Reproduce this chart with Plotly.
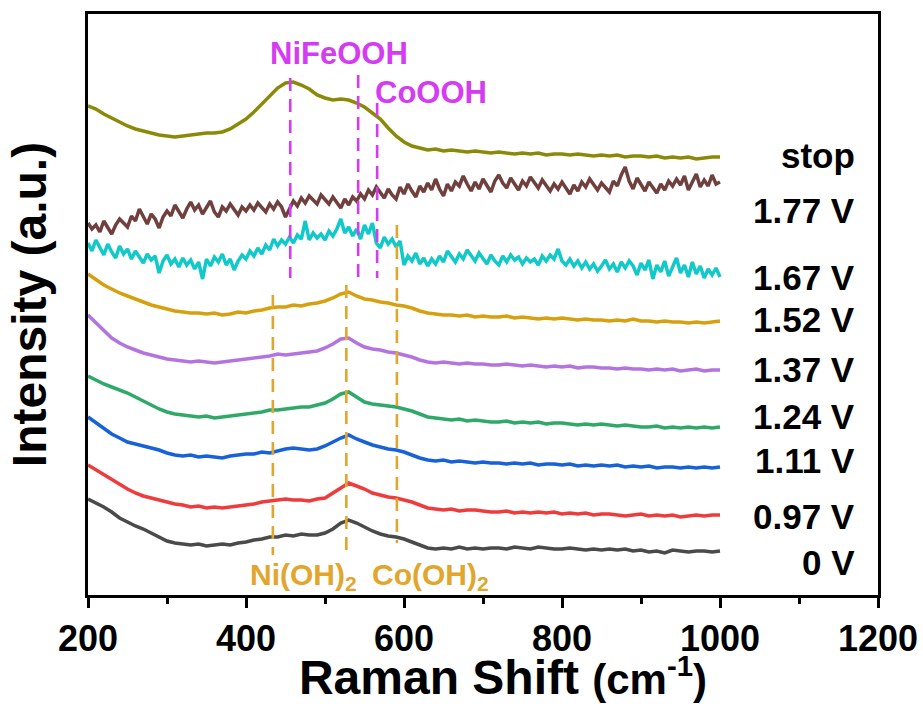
import plotly.graph_objects as go

# ---------------- data ----------------
shift_10 = list(range(200, 1001, 10))   # Raman shift grid for the smoother spectra
shift_5 = list(range(200, 1001, 5))     # finer grid for the noisy spectra

int_0V = [96, 92, 88, 83, 77, 73, 69, 66, 62, 58,
          54, 52, 51, 50, 51, 49, 50, 51, 50, 52,
          53, 55, 56, 58, 58, 60, 59, 61, 60, 60,
          62, 66, 72, 75, 72, 68, 64, 61, 59, 58,
          56, 53, 50, 47, 46, 47, 46, 48, 46, 47,
          46, 47, 47, 46, 48, 47, 46, 48, 47, 46,
          46, 47, 46, 45, 46, 45, 46, 45, 46, 44,
          45, 43, 44, 42, 45, 44, 43, 44, 44, 43,
          44]
int_097V = [130, 125, 120, 115, 110, 106, 102, 99, 97, 95,
            93, 91, 90, 88, 89, 87, 88, 87, 88, 89,
            90, 91, 93, 94, 95, 96, 95, 95, 94, 96,
            97, 102, 108, 112, 109, 106, 102, 100, 98, 97,
            95, 93, 90, 87, 86, 85, 86, 84, 85, 85,
            84, 83, 83, 84, 82, 83, 82, 83, 82, 83,
            81, 82, 81, 82, 80, 81, 81, 80, 79, 80,
            81, 79, 80, 79, 80, 78, 79, 80, 79, 80,
            80]
int_111V = [178, 172, 166, 161, 157, 153, 151, 149, 147, 145,
            142, 140, 139, 140, 138, 139, 138, 137, 139, 140,
            141, 141, 143, 142, 144, 146, 147, 146, 145, 146,
            149, 153, 157, 160, 156, 153, 150, 148, 146, 145,
            143, 140, 137, 135, 134, 135, 133, 134, 133, 132,
            133, 132, 132, 131, 132, 131, 132, 130, 131, 131,
            130, 131, 129, 130, 129, 130, 129, 130, 128, 129,
            128, 129, 127, 128, 128, 127, 128, 127, 128, 127,
            128]
int_124V = [219, 215, 211, 208, 205, 202, 198, 194, 190, 186,
            183, 181, 180, 179, 178, 179, 177, 178, 179, 180,
            181, 182, 183, 185, 185, 186, 187, 188, 188, 190,
            192, 196, 201, 203, 198, 193, 191, 190, 189, 188,
            186, 184, 181, 178, 177, 176, 175, 176, 174, 175,
            174, 173, 173, 174, 172, 173, 172, 173, 171, 172,
            172, 171, 170, 171, 170, 171, 170, 169, 170, 169,
            168, 168, 169, 167, 168, 167, 168, 167, 168, 167,
            168]
int_137V = [280, 272, 264, 257, 252, 248, 245, 242, 240, 238,
            236, 235, 234, 233, 234, 233, 232, 233, 234, 235,
            236, 237, 238, 239, 241, 240, 241, 242, 243, 244,
            247, 251, 256, 257, 252, 248, 246, 245, 243, 242,
            240, 238, 235, 233, 232, 233, 232, 231, 232, 231,
            231, 230, 230, 231, 230, 229, 230, 229, 228, 229,
            228, 229, 227, 228, 228, 227, 227, 226, 227, 226,
            226, 225, 226, 225, 226, 224, 225, 226, 224, 225,
            225]
int_152V = [321, 315, 310, 306, 302, 299, 296, 293, 290, 288,
            286, 284, 283, 282, 282, 281, 282, 280, 281, 283,
            282, 284, 285, 287, 288, 288, 290, 289, 291, 292,
            294, 297, 301, 303, 299, 296, 295, 293, 292, 290,
            289, 287, 284, 282, 281, 280, 280, 279, 280, 278,
            279, 278, 278, 279, 277, 278, 277, 276, 277, 276,
            277, 276, 275, 276, 275, 275, 274, 275, 274, 276,
            274, 274, 273, 274, 273, 273, 272, 273, 272, 273,
            274]
int_stop = [489, 486, 481, 477, 473, 469, 466, 464, 462, 460,
            459, 458, 459, 460, 461, 462, 462, 463, 466, 471,
            476, 483, 491, 499, 507, 512, 513, 510, 506, 500,
            497, 495, 496, 495, 492, 488, 482, 476, 467, 459,
            453, 449, 447, 445, 446, 444, 445, 444, 443, 444,
            443, 442, 443, 442, 441, 442, 441, 442, 440, 441,
            441, 440, 441, 440, 439, 440, 439, 440, 438, 439,
            439, 438, 439, 437, 438, 437, 438, 436, 437, 438,
            438]
int_177V = [372, 366, 370, 363, 374, 368, 361, 370, 376, 372, 368, 379, 374, 386, 378, 371, 381, 376, 367, 378,
            384, 379, 390, 383, 377, 386, 393, 385, 390, 381, 388, 394, 383, 378, 388, 384, 391, 386, 380, 388,
            384, 390, 385, 392, 387, 383, 391, 386, 393, 388, 378, 386, 394, 389, 397, 392, 399, 395, 391, 400,
            395, 391, 398, 393, 387, 396, 390, 398, 394, 401, 396, 405, 400, 408, 402, 397, 406, 400, 396, 408,
            401, 411, 404, 398, 409, 403, 412, 405, 416, 406, 399, 411, 404, 413, 409, 419, 411, 404, 413, 406,
            416, 410, 403, 414, 420, 412, 407, 417, 411, 405, 414, 409, 418, 412, 407, 415, 409, 404, 411, 406,
            413, 407, 401, 410, 404, 413, 408, 416, 411, 405, 412, 408, 403, 414, 409, 420, 428, 414, 406, 417,
            410, 404, 413, 408, 402, 411, 405, 414, 409, 416, 410, 419, 405, 413, 421, 408, 415, 409, 420, 411,
            413]
int_167V = [352, 344, 355, 348, 340, 351, 343, 337, 349, 341, 346, 336, 344, 338, 332, 341, 335, 339, 322, 334,
            340, 331, 336, 328, 337, 330, 335, 326, 333, 316, 336, 329, 338, 333, 341, 330, 336, 325, 334, 340,
            336, 344, 339, 347, 341, 350, 345, 356, 349, 355, 351, 358, 352, 360, 356, 374, 355, 362, 357, 361,
            355, 364, 359, 366, 376, 362, 368, 359, 366, 356, 370, 361, 372, 352, 347, 358, 351, 356, 348, 354,
            330, 339, 334, 342, 331, 337, 329, 336, 331, 339, 333, 344, 338, 333, 341, 336, 345, 339, 334, 342,
            337, 331, 340, 334, 330, 339, 333, 340, 335, 338, 331, 337, 333, 336, 330, 339, 334, 340, 336, 346,
            334, 330, 336, 329, 334, 327, 333, 326, 331, 324, 329, 335, 326, 331, 323, 333, 327, 334, 329, 320,
            332, 325, 335, 316, 330, 323, 334, 319, 328, 337, 322, 330, 318, 333, 321, 329, 317, 326, 320, 327,
            318]

series_labels = ["0 V", "0.97 V", "1.11 V", "1.24 V", "1.37 V", "1.52 V", "1.67 V", "1.77 V", "stop"]
series_x = [shift_10, shift_10, shift_10, shift_10, shift_10, shift_10, shift_5, shift_5, shift_10]
series_y = [int_0V, int_097V, int_111V, int_124V, int_137V, int_152V, int_167V, int_177V, int_stop]

# reference peak positions (cm-1) and the vertical extent of their dashed markers
oxy_peaks = [456, 542, 566]          # NiFeOOH / CoOOH
oxy_top = [517, 520, 492]
oxy_bottom = [317, 313, 317]
hyd_peaks = [434, 527, 591]          # Ni(OH)2 / Co(OH)2
hyd_top = [300, 310, 370]
hyd_bottom = [40, 41, 52]

x_ticks = [200, 400, 600, 800, 1000, 1200]

# ---------------- styling ----------------
FONT = "Liberation Sans, Arial, Helvetica, sans-serif"
colors = ["#4a4a4a", "#ef3b3b", "#1762d8", "#2ea96a", "#b474e0",
          "#d6a00e", "#12c9c9", "#70403f", "#8b8a08"]
MAGENTA = "#d53cf2"
GOLD = "#e2a62c"

fig = go.Figure()
for xs, ys, c, name in zip(series_x, series_y, colors, series_labels):
    fig.add_trace(go.Scatter(x=xs, y=ys, mode="lines", name=name,
                             line=dict(color=c, width=3.5), showlegend=False,
                             hoverinfo="skip"))

for p, t, b in zip(oxy_peaks, oxy_top, oxy_bottom):
    fig.add_trace(go.Scatter(x=[p, p], y=[t, b], mode="lines", showlegend=False,
                             hoverinfo="skip",
                             line=dict(color=MAGENTA, width=2.6, dash="13px,8px")))
for p, t, b in zip(hyd_peaks, hyd_top, hyd_bottom):
    fig.add_trace(go.Scatter(x=[p, p], y=[t, b], mode="lines", showlegend=False,
                             hoverinfo="skip",
                             line=dict(color=GOLD, width=2.6, dash="13px,8px")))

annotations = []
# curve labels on the right
label_pos = [33, 79, 135, 179, 226, 276, 318, 385, 440]
for lab, yv in zip(series_labels, label_pos):
    annotations.append(dict(x=1173, y=yv, xref="x", yref="y", text=lab,
                            showarrow=False, xanchor="right", yanchor="middle",
                            font=dict(family=FONT, size=35, color="black", weight="bold")))
# phase labels
annotations.append(dict(x=518, y=542, xref="x", yref="y", text="NiFeOOH", showarrow=False,
                        font=dict(family=FONT, size=31, color=MAGENTA, weight="bold")))
annotations.append(dict(x=634, y=503, xref="x", yref="y", text="CoOOH", showarrow=False,
                        font=dict(family=FONT, size=31, color=MAGENTA, weight="bold")))
annotations.append(dict(x=473, y=19, xref="x", yref="y", text="Ni(OH)<sub>2</sub>", showarrow=False,
                        font=dict(family=FONT, size=30, color=GOLD, weight="bold")))
annotations.append(dict(x=634, y=19, xref="x", yref="y", text="Co(OH)<sub>2</sub>", showarrow=False,
                        font=dict(family=FONT, size=30, color=GOLD, weight="bold")))

fig.update_layout(
    width=923, height=704,
    margin=dict(l=88, r=45, t=14, b=109),
    paper_bgcolor="white", plot_bgcolor="white",
    font=dict(family=FONT, color="black"),
    annotations=annotations,
    showlegend=False,
)
fig.update_xaxes(
    range=[200, 1200], tickvals=x_ticks, ticktext=[str(v) for v in x_ticks],
    ticks="outside", ticklen=10, tickwidth=2.5, tickcolor="black",
    minor=dict(ticks="outside", ticklen=6, tickwidth=2.5, tickcolor="black", dtick=100, tick0=200),
    showline=True, linewidth=2.5, linecolor="black", mirror=True,
    showgrid=False, zeroline=False,
    tickfont=dict(family=FONT, size=36, color="black", weight="bold"),
    title=dict(text="&nbsp;&nbsp;&nbsp;Raman Shift <span style='font-size:42px'>(cm<sup>-1</sup>)</span>",
               font=dict(family=FONT, size=48, color="black", weight="bold"), standoff=12),
    automargin=False,
)
fig.update_yaxes(
    range=[0, 581], showticklabels=False, ticks="",
    showline=True, linewidth=2.5, linecolor="black", mirror=True,
    showgrid=False, zeroline=False,
    title=dict(text="Intensity (a.u.)",
               font=dict(family=FONT, size=48, color="black", weight="bold"), standoff=24),
    automargin=False,
)

fig.write_html("out.html")
